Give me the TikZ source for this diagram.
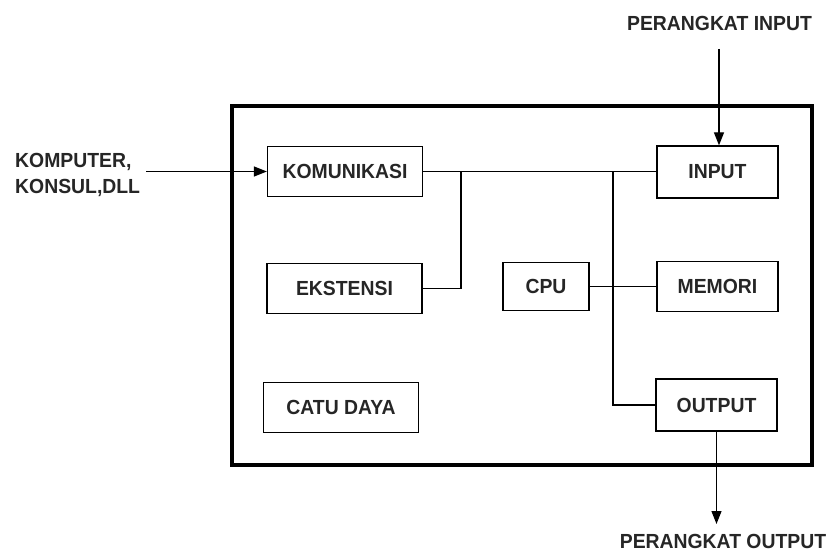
\documentclass[tikz,border=0pt]{standalone}
\usepackage{fontspec}
\setmainfont{Liberation Sans}[FakeStretch=0.95]
\usetikzlibrary{arrows.meta}
\begin{document}
\begin{tikzpicture}[x=1pt,y=-1pt,
  every node/.style={font=\bfseries\fontsize{20.4}{26}\selectfont, text=black!85},
  unit/.style={draw, line width=1.3pt, minimum height=50pt, inner sep=0pt},
  wide/.style={unit, minimum width=155pt},
  narrow/.style={unit, minimum width=121pt},
  wire/.style={line width=1.3pt},
  arr/.style={wire, -{Triangle[length=13pt,width=10pt]}},
  lbl/.style={inner sep=0pt}]
\useasboundingbox (0,0) rectangle (830,553);
\fill[white] (0,0) rectangle (830,553);
\draw[line width=3.5pt] (232,106) rectangle (812,465);

\node[wide] (kom) at (345,171.5) {KOMUNIKASI};
\node[wide] (eks) at (344.5,288.5) {EKSTENSI};
\node[wide] (catu) at (341,407.5) {CATU DAYA};
\node[unit, minimum width=86pt, minimum height=48pt] (cpu) at (546,286.5) {CPU};
\node[narrow, minimum height=52pt] (inp) at (717.5,172) {INPUT};
\node[narrow] (mem) at (717.5,286.5) {MEMORI};
\node[narrow, minimum height=52pt] (out) at (716.5,405) {OUTPUT};

\node[lbl, align=left, anchor=west] (komp) at (15,175) {KOMPUTER,\\KONSUL,DLL};
\node[lbl] (pin) at (719.5,23) {PERANGKAT INPUT};
\node[lbl] (pout) at (723,541) {PERANGKAT OUTPUT};

\coordinate (j1) at (461,171.5);
\coordinate (j2) at (613,171.5);
\coordinate (s1) at (146,171.5);
\coordinate (s2) at (719,49);
\coordinate (e2) at (716.5,524);

\draw[wire] (kom.east) -- (kom.east -| inp.west);
\draw[wire] (eks.east) -| (j1);
\draw[wire] (cpu.east) -- (mem.west);
\draw[wire] (j2) |- (out.west);
\draw[arr] (s1) -- (kom.west);
\draw[arr] (s2) -- (s2 |- inp.north);
\draw[arr] (out.south) -- (e2);
\end{tikzpicture}
\end{document}
